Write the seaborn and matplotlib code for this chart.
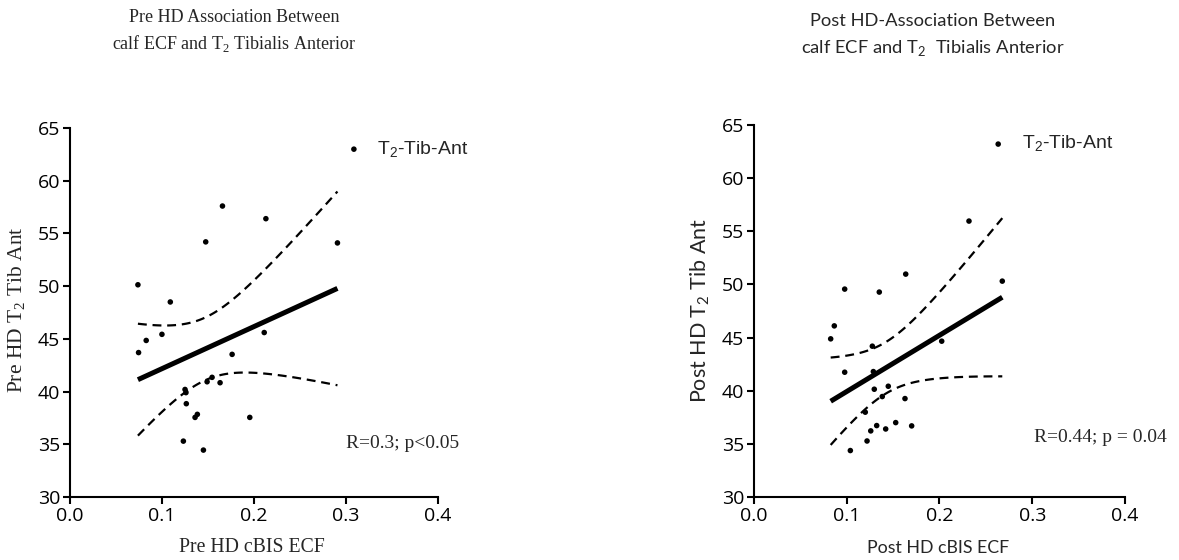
import math
import numpy as np
import pandas as pd
import matplotlib
matplotlib.use("Agg")
import matplotlib.pyplot as plt
import seaborn as sns

# ---------------- data ----------------
pre_ecf = [0.0738, 0.109, 0.1475, 0.1657, 0.2129, 0.2907, 0.0745, 0.0828, 0.0999,
           0.2111, 0.1762, 0.125, 0.126, 0.1264, 0.149, 0.1544, 0.1631, 0.1359,
           0.1384, 0.1954, 0.1232, 0.145]
pre_t2 = [50.13, 48.5, 54.2, 57.6, 56.4, 54.1, 43.7, 44.85, 45.43,
          45.6, 43.53, 40.2, 39.9, 38.85, 40.93, 41.35, 40.84, 37.55,
          37.84, 37.55, 35.3, 34.45]

post_ecf = [0.2318, 0.1636, 0.0978, 0.1351, 0.2677, 0.0866, 0.0827, 0.1276, 0.2024,
            0.0978, 0.1287, 0.1297, 0.1448, 0.1383, 0.1628, 0.12, 0.1323, 0.1259,
            0.142, 0.1528, 0.17, 0.1219, 0.1039]
post_t2 = [55.96, 50.97, 49.56, 49.28, 50.31, 46.1, 44.88, 44.19, 44.66,
           41.74, 41.8, 40.14, 40.42, 39.45, 39.26, 37.98, 36.72, 36.22,
           36.4, 37.0, 36.69, 35.27, 34.37]

x_ticks = [0.0, 0.1, 0.2, 0.3, 0.4]
y_ticks = [30, 35, 40, 45, 50, 55, 60, 65]

# ---------------- style ----------------
sns.set_style("ticks")
plt.rcParams["font.family"] = ["Open Sans", "DejaVu Sans"]
plt.rcParams["axes.linewidth"] = 1.5
plt.rcParams["xtick.major.width"] = 1.5
plt.rcParams["ytick.major.width"] = 1.5
plt.rcParams["xtick.major.size"] = 5
plt.rcParams["ytick.major.size"] = 5
plt.rcParams["xtick.color"] = "black"
plt.rcParams["ytick.color"] = "black"
plt.rcParams["axes.edgecolor"] = "black"


def t_crit(df, q=0.975):
    xs = np.linspace(0, 12, 240001)
    c = math.gamma((df + 1) / 2) / (math.sqrt(df * math.pi) * math.gamma(df / 2))
    pdf = c * (1 + xs ** 2 / df) ** (-(df + 1) / 2)
    cdf = 0.5 + np.concatenate([[0], np.cumsum((pdf[1:] + pdf[:-1]) / 2 * np.diff(xs))])
    return xs[np.searchsorted(cdf, q)]


def conf_band(x, y):
    x = np.asarray(x); y = np.asarray(y)
    n = len(x)
    b, a = np.polyfit(x, y, 1)
    resid = y - (a + b * x)
    s = math.sqrt(np.sum(resid ** 2) / (n - 2))
    xbar = x.mean(); sxx = np.sum((x - xbar) ** 2)
    grid = np.linspace(x.min(), x.max(), 100)
    fit = a + b * grid
    h = t_crit(n - 2) * s * np.sqrt(1 / n + (grid - xbar) ** 2 / sxx)
    return grid, fit - h, fit + h


fig = plt.figure(figsize=(11.79, 5.60), dpi=100)
ax1 = fig.add_axes([0.0594, 0.1125, 0.3121, 0.6589])
ax2 = fig.add_axes([0.6395, 0.1125, 0.3147, 0.6643])

panels = [
    (ax1, pre_ecf, pre_t2, (0.745, 0.942)),
    (ax2, post_ecf, post_t2, (0.632, 0.948)),
]

for ax, xv, yv, leg_pos in panels:
    df = pd.DataFrame({"x": xv, "y": yv})
    sns.scatterplot(data=df, x="x", y="y", color="black", s=16, edgecolor="none",
                    label="T$_{\\mathregular{2}}$-Tib-Ant", ax=ax, zorder=3)
    sns.regplot(data=df, x="x", y="y", scatter=False, ci=None, ax=ax,
                line_kws=dict(color="black", lw=3.6, solid_capstyle="butt"))
    grid, lo, hi = conf_band(xv, yv)
    ax.plot(grid, lo, color="black", lw=1.6, dashes=(4, 2.6))
    ax.plot(grid, hi, color="black", lw=1.6, dashes=(4, 2.6))
    ax.set_xlim(0, 0.4)
    ax.set_ylim(30, 65)
    ax.set_xticks(x_ticks)
    ax.set_xticklabels([f"{t:.1f}" for t in x_ticks])
    ax.set_yticks(y_ticks)
    ax.tick_params(labelsize=14, pad=2)
    sns.despine(ax=ax)
    ax.set_xlabel("")
    ax.set_ylabel("")
    leg = ax.legend(loc="center left", bbox_to_anchor=leg_pos, frameon=False,
                    handlelength=1.0, handletextpad=0.7, borderpad=0,
                    borderaxespad=0, prop=dict(family="Liberation Sans", size=14))

# titles
fig.text(234 / 1179, 1 - 18 / 560, "Pre HD Association Between", ha="center", va="center",
         family="Liberation Serif", fontsize=13)
fig.text(234 / 1179, 1 - 44 / 560, "calf ECF and T$_{\\mathregular{2}}$ Tibialis Anterior",
         ha="center", va="center", family="Liberation Serif", fontsize=13)
fig.text(933 / 1179, 1 - 21 / 560, "Post HD-Association Between", ha="center", va="center",
         family="Lato", fontsize=13.2)
fig.text(933 / 1179, 1 - 48 / 560, "calf ECF and T$_{\\mathregular{2}}$  Tibialis Anterior",
         ha="center", va="center", family="Lato", fontsize=13.2)

# axis labels
fig.text(17 / 1179, 1 - 310 / 560, "Pre HD T$_{\\mathregular{2}}$ Tib Ant", rotation=90,
         ha="center", va="center", family="Liberation Serif", fontsize=15.5)
fig.text(700 / 1179, 1 - 310 / 560, "Post HD T$_{\\mathregular{2}}$ Tib Ant", rotation=90,
         ha="center", va="center", family="Lato", fontsize=15.5)
fig.text(252 / 1179, 1 - 548 / 560, "Pre HD cBIS ECF", ha="center", va="center",
         family="Liberation Serif", fontsize=14.2)
fig.text(938 / 1179, 1 - 548 / 560, "Post HD cBIS ECF", ha="center", va="center",
         family="Lato", fontsize=12.8)

# stats annotations
fig.text(346 / 1179, 1 - 444 / 560, "R=0.3; p<0.05", ha="left", va="center",
         family="Liberation Serif", fontsize=14)
fig.text(1034 / 1179, 1 - 437 / 560, "R=0.44; p = 0.04", ha="left", va="center",
         family="Liberation Serif", fontsize=14)

fig.savefig("out.png", dpi=100)
